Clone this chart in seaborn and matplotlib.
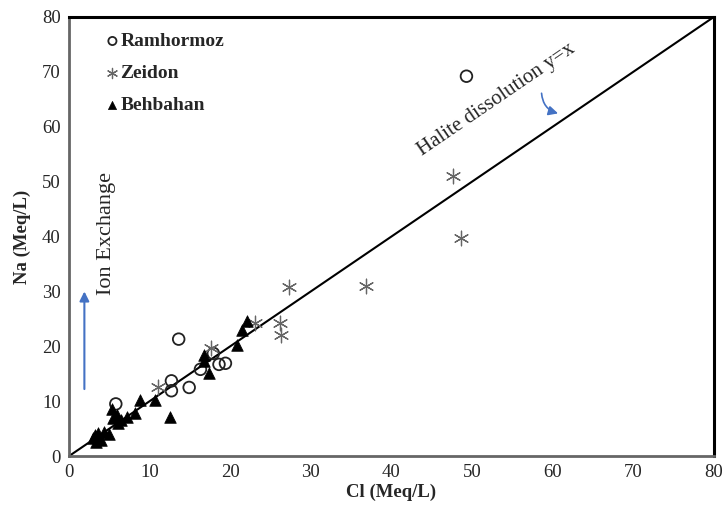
import matplotlib
matplotlib.use("Agg")
import matplotlib.pyplot as plt
import seaborn as sns
import pandas as pd

# Data
ram_cl = [49.3, 13.6, 12.7, 12.7, 14.9, 16.3, 17.9, 18.6, 19.4, 5.8]
ram_na = [69.2, 21.3, 13.7, 11.9, 12.5, 15.8, 18.7, 16.7, 16.9, 9.5]

zei_cl = [47.6, 48.6, 27.3, 36.8, 26.2, 26.3, 23.1, 17.6, 11.0]
zei_na = [51.0, 39.8, 30.8, 31.0, 24.3, 22.0, 24.2, 19.6, 12.6]

beh_cl = [3.0, 3.2, 3.4, 3.6, 4.0, 4.3, 4.9, 5.3, 5.5, 5.9, 6.1, 6.5, 7.2, 8.2,
          8.8, 10.7, 12.5, 16.7, 16.8, 17.4, 20.8, 21.5, 22.1]
beh_na = [3.2, 3.8, 2.6, 4.2, 2.9, 4.4, 4.1, 8.5, 7.0, 7.5, 6.0, 6.6, 7.2, 7.8,
          10.2, 10.2, 7.2, 18.5, 17.3, 15.1, 20.2, 22.9, 24.6]

x_ticks = [0, 10, 20, 30, 40, 50, 60, 70, 80]
y_ticks = [0, 10, 20, 30, 40, 50, 60, 70, 80]

sns.set_theme(style="white")
plt.rcParams['font.family'] = ['Liberation Serif', 'DejaVu Serif']

fig = plt.figure(figsize=(7.27, 5.13), dpi=100)
ax = fig.add_axes([0.095, 0.111, 0.887, 0.856])

# y = x line
ax.plot([0, 80], [0, 80], color="black", lw=1.5, zorder=1)

df_r = pd.DataFrame({"Cl": ram_cl, "Na": ram_na})
df_z = pd.DataFrame({"Cl": zei_cl, "Na": zei_na})
df_b = pd.DataFrame({"Cl": beh_cl, "Na": beh_na})

sns.scatterplot(data=df_r, x="Cl", y="Na", ax=ax, marker="o", s=70,
                facecolor="none", edgecolor="#222222", linewidth=1.3,
                label="Ramhormoz", zorder=3)
sns.scatterplot(data=df_z, x="Cl", y="Na", ax=ax, marker=(6, 2, 0), s=110,
                color="#666666", linewidth=0.9, label="Zeidon", zorder=3)
sns.scatterplot(data=df_b, x="Cl", y="Na", ax=ax, marker="^", s=70,
                color="black", edgecolor="black", linewidth=0.5,
                label="Behbahan", zorder=4)

ax.set_xlim(0, 80)
ax.set_ylim(0, 80)
ax.set_xticks(x_ticks)
ax.set_yticks(y_ticks)
ax.tick_params(axis="both", labelsize=13.5, length=0, pad=6)
ax.set_xlabel("Cl (Meq/L)", fontsize=13.5, fontweight="bold", labelpad=2)
ax.set_ylabel("Na (Meq/L)", fontsize=13.5, fontweight="bold", labelpad=8)

for side in ["top", "right"]:
    ax.spines[side].set_color("black")
    ax.spines[side].set_linewidth(2.2)
for side in ["left", "bottom"]:
    ax.spines[side].set_color("#666666")
    ax.spines[side].set_linewidth(2.0)

leg = ax.legend(loc="upper left", bbox_to_anchor=(0.025, 1.0), frameon=False,
                prop={"weight": "bold", "size": 14}, handletextpad=-0.2,
                handlelength=1.2, labelspacing=0.75, markerscale=0.7,
                borderpad=0.3)

# Annotations
ax.text(4.6, 40.6, "Ion Exchange", rotation=90, fontsize=16,
        ha="center", va="center")
ax.annotate("", xy=(1.9, 30.5), xytext=(1.9, 11.7),
            arrowprops=dict(arrowstyle="-|>", color="#4472C4", lw=1.5,
                            mutation_scale=14))
ax.text(53.0, 65.0, "Halite dissolution y=x", rotation=34.3, fontsize=15,
        ha="center", va="center", rotation_mode="anchor")
ax.annotate("", xy=(61.0, 62.3), xytext=(58.6, 66.6),
            arrowprops=dict(arrowstyle="-|>", color="#4472C4", lw=1.2,
                            mutation_scale=14,
                            connectionstyle="arc3,rad=0.4"))

fig.savefig("out.png", dpi=100)
